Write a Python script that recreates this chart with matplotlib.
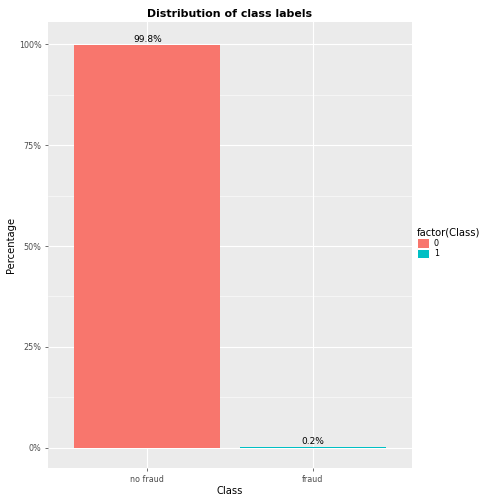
import matplotlib
matplotlib.use("Agg")
import matplotlib.pyplot as plt
from matplotlib.patches import Patch

categories = ["no fraud", "fraud"]
values = [0.998, 0.002]
labels = ["99.8%", "0.2%"]
colors = ["#F8766D", "#00BFC4"]
legend_labels = ["0", "1"]
yticks = [0, 0.25, 0.5, 0.75, 1.0]
yticklabels = ["0%", "25%", "50%", "75%", "100%"]

fig = plt.figure(figsize=(7, 7), dpi=72)
ax = fig.add_axes([48/504, 1-468/504, (412-48)/504, (468-22)/504])
ax.set_facecolor("#EBEBEB")
x = [1, 2]
ax.bar(x, values, width=0.88, color=colors, zorder=3)
for xi, v, l in zip(x, values, labels):
    ax.text(xi, v + 0.003, l, ha="center", va="bottom", fontsize=9, zorder=4)
ax.set_xlim(0.4, 2.6)
ax.set_ylim(-0.0499, 1.055)
ax.set_xticks(x)
ax.set_xticklabels(categories)
ax.set_yticks(yticks)
ax.set_yticklabels(yticklabels)
ax.set_yticks([0.125, 0.375, 0.625, 0.875], minor=True)
ax.grid(True, which="major", color="white", linewidth=1.1, zorder=0)
ax.grid(True, which="minor", axis="y", color="white", linewidth=0.5, zorder=0)
for s in ax.spines.values():
    s.set_visible(False)
ax.tick_params(which="both", colors="#333333", labelsize=8, length=3)
ax.tick_params(which="minor", length=0)
ax.tick_params(colors="#4D4D4D")
for t in ax.get_xticklabels() + ax.get_yticklabels():
    t.set_color("#4D4D4D")
ax.set_xlabel("Class", fontsize=10, labelpad=3)
ax.set_ylabel("Percentage", fontsize=10, labelpad=3)
ax.set_title("Distribution of class labels", fontsize=11, fontweight="bold", pad=5)

handles = [Patch(facecolor=c, edgecolor="white") for c in colors]
leg = fig.legend(handles, legend_labels, title="factor(Class)", loc="upper left",
                 bbox_to_anchor=(410/504, 1-220/504), frameon=False, fontsize=8,
                 title_fontsize=10, handlelength=1.5, handleheight=1.5,
                 handletextpad=0.6, labelspacing=0.1)
leg._legend_box.align = "left"
fig.savefig("out.png", dpi=72)
